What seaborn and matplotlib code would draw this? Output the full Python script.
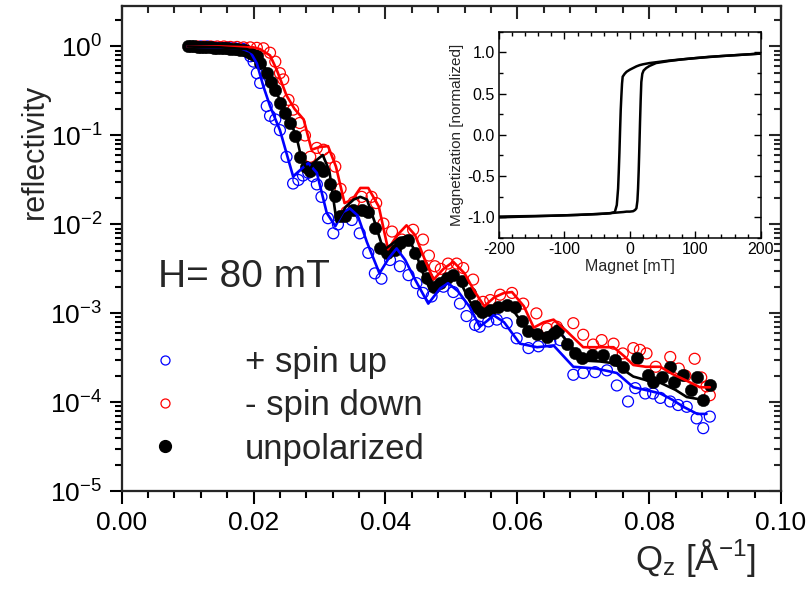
import numpy as np
import pandas as pd
import matplotlib
matplotlib.use("Agg")
import matplotlib.pyplot as plt
from matplotlib.ticker import MultipleLocator, LogLocator, NullFormatter, LogFormatterSciNotation
from matplotlib.lines import Line2D
import seaborn as sns

# ---------------- reflectivity data (Qz in 1/Angstrom, log10 of reflectivity) ----------------
q_unpol = [0.0100, 0.0105, 0.0110, 0.0115, 0.0120, 0.0125, 0.0130, 0.0135, 0.0140, 0.0145,
           0.0150, 0.0155, 0.0160, 0.0165, 0.0170, 0.0175, 0.0180, 0.0185, 0.0190, 0.0195,
           0.0200, 0.0205, 0.0210, 0.0220, 0.0227, 0.0233, 0.0240, 0.0248, 0.0255, 0.0263,
           0.0271, 0.0279, 0.0286, 0.0293, 0.0300, 0.0306, 0.0316, 0.0324, 0.0331, 0.0339,
           0.0351, 0.0364, 0.0374, 0.0384, 0.0392, 0.0402, 0.0414, 0.0422, 0.0435, 0.0445,
           0.0455, 0.0463, 0.0473, 0.0483, 0.0493, 0.0503, 0.0516, 0.0528, 0.0536, 0.0546,
           0.0559, 0.0571, 0.0584, 0.0597, 0.0607, 0.0617, 0.0630, 0.0645, 0.0655, 0.0662,
           0.0675, 0.0688, 0.0698, 0.0713, 0.0730, 0.0748, 0.0760, 0.0781, 0.0799, 0.0806,
           0.0819, 0.0832, 0.0837, 0.0852, 0.0864, 0.0872, 0.0882, 0.0892]
lg_unpol = [0.00, 0.00, 0.00, -0.005, -0.005, -0.01, -0.01, -0.01, -0.015, -0.015,
            -0.02, -0.02, -0.02, -0.025, -0.03, -0.03, -0.035, -0.04, -0.05, -0.07,
            -0.09, -0.11, -0.19, -0.30, -0.40, -0.49, -0.64, -0.75, -0.86, -1.01,
            -1.24, -1.36, -1.40, -1.35, -1.36, -1.40, -1.54, -1.68, -1.90, -1.91,
            -1.84, -1.84, -1.86, -2.04, -2.27, -2.32, -2.29, -2.21, -2.17, -2.32,
            -2.47, -2.60, -2.70, -2.66, -2.60, -2.57, -2.64, -2.77, -2.92, -2.98,
            -2.96, -2.93, -2.90, -2.93, -3.08, -3.20, -3.23, -3.26, -3.22, -3.19,
            -3.34, -3.45, -3.50, -3.47, -3.47, -3.52, -3.60, -3.50, -3.69, -3.77,
            -3.71, -3.60, -3.77, -3.69, -3.86, -3.71, -3.97, -3.81]

q_down = [0.0115, 0.0125, 0.0135, 0.0145, 0.0155, 0.0165, 0.0175, 0.0185, 0.0195, 0.0205,
          0.0215, 0.0225, 0.0233, 0.0240, 0.0245, 0.0253, 0.0260, 0.0270, 0.0278, 0.0286,
          0.0296, 0.0306, 0.0315, 0.0324, 0.0332, 0.0341, 0.0352, 0.0364, 0.0379, 0.0386,
          0.0397, 0.0410, 0.0425, 0.0442, 0.0457, 0.0466, 0.0475, 0.0484, 0.0495, 0.0508,
          0.0518, 0.0533, 0.0548, 0.0559, 0.0574, 0.0592, 0.0609, 0.0629, 0.0645, 0.0660,
          0.0685, 0.0700, 0.0715, 0.0728, 0.0746, 0.0760, 0.0776, 0.0786, 0.0796, 0.0810,
          0.0832, 0.0845, 0.0855, 0.0869, 0.0879, 0.0887, 0.0892]
lg_down = [0.00, 0.00, 0.00, 0.00, 0.00, -0.005, -0.005, -0.01, -0.01, -0.015,
           -0.02, -0.07, -0.17, -0.30, -0.37, -0.60, -0.71, -0.86, -1.00, -1.24,
           -1.14, -1.16, -1.25, -1.35, -1.60, -1.86, -1.75, -1.69, -1.69, -1.76,
           -1.99, -2.08, -2.17, -2.06, -2.17, -2.35, -2.47, -2.50, -2.44, -2.44,
           -2.49, -2.62, -2.87, -2.85, -2.79, -2.77, -2.89, -3.00, -3.17, -3.15,
           -3.11, -3.24, -3.35, -3.30, -3.34, -3.45, -3.39, -3.41, -3.45, -3.60,
           -3.49, -3.62, -3.70, -3.51, -3.72, -3.82, -3.92]

q_up = [0.0120, 0.0130, 0.0140, 0.0150, 0.0160, 0.0170, 0.0180, 0.0185, 0.0190, 0.0195,
        0.0200, 0.0205, 0.0210, 0.0220, 0.0225, 0.0233, 0.0240, 0.0250, 0.0260, 0.0268,
        0.0275, 0.0283, 0.0290, 0.0296, 0.0303, 0.0313, 0.0321, 0.0328, 0.0336, 0.0349,
        0.0361, 0.0374, 0.0384, 0.0394, 0.0407, 0.0422, 0.0435, 0.0447, 0.0457, 0.0470,
        0.0488, 0.0503, 0.0513, 0.0523, 0.0536, 0.0543, 0.0556, 0.0569, 0.0584, 0.0599,
        0.0617, 0.0632, 0.0650, 0.0665, 0.0685, 0.0700, 0.0718, 0.0736, 0.0751, 0.0768,
        0.0779, 0.0794, 0.0806, 0.0817, 0.0832, 0.0844, 0.0857, 0.0872, 0.0882, 0.0892]
lg_up = [0.00, 0.00, -0.005, -0.01, -0.01, -0.015, -0.02, -0.03, -0.06, -0.11,
         -0.17, -0.30, -0.41, -0.67, -0.78, -0.82, -0.94, -1.24, -1.54, -1.50,
         -1.45, -1.42, -1.46, -1.55, -1.69, -1.93, -2.10, -2.00, -1.91, -1.95,
         -2.10, -2.32, -2.55, -2.61, -2.40, -2.47, -2.57, -2.66, -2.77, -2.81,
         -2.70, -2.76, -2.89, -3.03, -3.13, -3.15, -3.09, -3.07, -3.11, -3.28,
         -3.39, -3.37, -3.32, -3.30, -3.69, -3.67, -3.66, -3.64, -3.81, -3.99,
         -3.84, -3.90, -3.90, -3.95, -3.99, -4.03, -4.05, -4.18, -4.29, -4.16]

# ---------------- model curves ----------------
q_fit_down = [0.0100, 0.0150, 0.0200, 0.0210, 0.0225, 0.0235, 0.0250, 0.0262, 0.0276, 0.0288,
              0.0300, 0.0313, 0.0325, 0.0338, 0.0350, 0.0362, 0.0374, 0.0390, 0.0404, 0.0418,
              0.0432, 0.0445, 0.0460, 0.0473, 0.0488, 0.0503, 0.0520, 0.0535, 0.0550, 0.0565,
              0.0580, 0.0592, 0.0610, 0.0625, 0.0640, 0.0655, 0.0675, 0.0700, 0.0725, 0.0746,
              0.0762, 0.0776, 0.0795, 0.0817, 0.0835, 0.0855, 0.0877, 0.0892]
lg_fit_down = [0.00, 0.00, -0.01, -0.03, -0.10, -0.26, -0.55, -0.70, -0.82, -1.16,
               -1.13, -1.12, -1.35, -1.76, -1.72, -1.59, -1.59, -1.80, -2.28, -2.12,
               -2.01, -2.12, -2.40, -2.62, -2.50, -2.42, -2.55, -2.75, -2.92, -2.82,
               -2.77, -2.76, -2.92, -3.16, -3.10, -3.07, -3.20, -3.38, -3.38, -3.38,
               -3.48, -3.58, -3.60, -3.60, -3.68, -3.75, -3.83, -3.83]

q_fit_unpol = [0.0100, 0.0150, 0.0190, 0.0205, 0.0215, 0.0230, 0.0250, 0.0265, 0.0273, 0.0283,
               0.0295, 0.0305, 0.0315, 0.0326, 0.0340, 0.0352, 0.0362, 0.0372, 0.0385, 0.0397,
               0.0410, 0.0422, 0.0433, 0.0445, 0.0457, 0.0468, 0.0483, 0.0498, 0.0512, 0.0525,
               0.0538, 0.0555, 0.0572, 0.0590, 0.0605, 0.0620, 0.0634, 0.0650, 0.0665, 0.0685,
               0.0700, 0.0725, 0.0746, 0.0762, 0.0776, 0.0800, 0.0817, 0.0840, 0.0857, 0.0880]
lg_fit_unpol = [0.00, -0.01, -0.03, -0.09, -0.20, -0.45, -0.75, -1.01, -1.27, -1.40,
                -1.28, -1.22, -1.40, -1.97, -1.80, -1.72, -1.69, -1.72, -2.00, -2.29,
                -2.22, -2.15, -2.14, -2.30, -2.55, -2.74, -2.62, -2.55, -2.62, -2.82,
                -3.00, -2.96, -2.92, -2.93, -3.08, -3.22, -3.27, -3.20, -3.22, -3.40,
                -3.53, -3.54, -3.56, -3.64, -3.71, -3.76, -3.78, -3.86, -3.94, -3.97]

q_fit_up = [0.0100, 0.0150, 0.0180, 0.0195, 0.0205, 0.0215, 0.0225, 0.0240, 0.0250, 0.0260,
            0.0272, 0.0283, 0.0296, 0.0311, 0.0324, 0.0336, 0.0346, 0.0358, 0.0372, 0.0391,
            0.0405, 0.0417, 0.0430, 0.0445, 0.0465, 0.0483, 0.0495, 0.0510, 0.0528, 0.0543,
            0.0555, 0.0564, 0.0580, 0.0604, 0.0630, 0.0655, 0.0670, 0.0685, 0.0720, 0.0751,
            0.0776, 0.0800, 0.0817, 0.0835, 0.0852, 0.0873, 0.0887]
lg_fit_up = [0.00, -0.01, -0.02, -0.06, -0.19, -0.45, -0.67, -0.94, -1.20, -1.46,
             -1.38, -1.31, -1.42, -1.87, -2.02, -1.86, -1.82, -1.90, -2.20, -2.55,
             -2.38, -2.27, -2.40, -2.62, -2.89, -2.72, -2.66, -2.75, -2.93, -3.15,
             -3.08, -3.02, -3.10, -3.34, -3.38, -3.36, -3.48, -3.60, -3.62, -3.67,
             -3.83, -3.87, -3.90, -3.97, -4.05, -4.13, -4.13]

# ---------------- hysteresis loop (field in mT, normalized magnetization) ----------------
h_desc = [200, 180, 160, 140, 120, 100, 80, 60, 40, 30, 20, 15, 10, 5, 0, -5, -8,
          -11, -12, -13, -14, -15, -16, -17, -18, -20, -23, -30, -50, -80, -120, -160, -200]
m_desc = [0.985, 0.975, 0.965, 0.955, 0.945, 0.93, 0.915, 0.90, 0.88, 0.87, 0.855, 0.845, 0.83,
          0.81, 0.79, 0.765, 0.74, 0.705, 0.62, 0.47, 0.30, 0.05, -0.22, -0.45, -0.65, -0.85,
          -0.935, -0.95, -0.96, -0.97, -0.98, -0.985, -0.99]
h_asc = [-200, -160, -120, -80, -40, -25, -10, -5, 0, 5, 8, 10, 11.5, 12.5, 13.5, 14.5,
         15.5, 16.5, 17.5, 19, 21, 25, 30, 40, 60, 80, 100, 140, 180, 200]
m_asc = [-1.0, -0.99, -0.98, -0.97, -0.955, -0.945, -0.935, -0.93, -0.93, -0.925, -0.91,
         -0.89, -0.80, -0.65, -0.43, -0.15, 0.15, 0.42, 0.64, 0.74, 0.78, 0.81, 0.835, 0.87,
         0.895, 0.915, 0.93, 0.955, 0.975, 0.985]

legend_labels = ["+ spin up", "- spin down", "unpolarized"]
field_label = "H= 80 mT"

# ---------------- style ----------------
sns.set_style("ticks")
plt.rcParams["font.family"] = ["Liberation Sans", "DejaVu Sans"]
plt.rcParams["mathtext.fontset"] = "custom"
plt.rcParams["mathtext.rm"] = "Liberation Sans"
plt.rcParams["mathtext.it"] = "Liberation Sans"
plt.rcParams["mathtext.bf"] = "Liberation Sans:bold"
plt.rcParams["axes.unicode_minus"] = False

fig = plt.figure(figsize=(8.08, 5.97), dpi=100)
ax = fig.add_axes([0.1506, 0.1770, 0.8160, 0.8129])
ax.set_yscale("log")
ax.set_xlim(0.0, 0.10)
ylim = (1e-5, 2.85)
ax.set_ylim(*ylim)

df_up = pd.DataFrame({"q": q_up, "r": 10.0 ** np.array(lg_up)})
df_down = pd.DataFrame({"q": q_down, "r": 10.0 ** np.array(lg_down)})
df_unpol = pd.DataFrame({"q": q_unpol, "r": 10.0 ** np.array(lg_unpol)})
fit_up = pd.DataFrame({"q": q_fit_up, "r": 10.0 ** np.array(lg_fit_up)})
fit_down = pd.DataFrame({"q": q_fit_down, "r": 10.0 ** np.array(lg_fit_down)})
fit_unpol = pd.DataFrame({"q": q_fit_unpol, "r": 10.0 ** np.array(lg_fit_unpol)})

sns.scatterplot(data=df_up, x="q", y="r", ax=ax, marker="o", s=62,
                facecolors="none", edgecolor="#0000ff", linewidth=0.9, zorder=3)
sns.scatterplot(data=df_down, x="q", y="r", ax=ax, marker="o", s=62,
                facecolors="none", edgecolor="#ff0000", linewidth=0.9, zorder=3)
sns.scatterplot(data=df_unpol, x="q", y="r", ax=ax, marker="o", s=80,
                color="black", edgecolor="black", linewidth=0.3, zorder=4)
for fit, col in [(fit_up, "#0000ff"), (fit_down, "#ff0000"), (fit_unpol, "black")]:
    sns.lineplot(data=fit, x="q", y="r", ax=ax, color=col, lw=1.9,
                 estimator=None, sort=False, zorder=5)

ax.set_xlim(0.0, 0.10)
ax.set_ylim(*ylim)

# axes frame and ticks
for sp in ax.spines.values():
    sp.set_visible(True)
    sp.set_linewidth(1.5)
    sp.set_color("black")
ax.xaxis.set_major_locator(MultipleLocator(0.02))
ax.xaxis.set_minor_locator(MultipleLocator(0.004))
ax.xaxis.set_major_formatter(matplotlib.ticker.FormatStrFormatter("%.2f"))
ax.yaxis.set_major_locator(LogLocator(base=10, numticks=10))
ax.yaxis.set_minor_locator(LogLocator(base=10, subs=np.arange(2, 10), numticks=20))
ax.yaxis.set_minor_formatter(NullFormatter())
ax.yaxis.set_major_formatter(LogFormatterSciNotation())
ax.tick_params(which="both", direction="out", width=1.5, labelsize=19, colors="black",
               top=False, right=False)
ax.tick_params(which="major", length=9, pad=5)
ax.tick_params(which="minor", length=5)

ax.set_xlabel("Q$_{\\mathrm{z}}$ [Å$^{\\mathrm{-1}}$]", fontsize=25, ha="right")
ax.xaxis.set_label_coords(0.962, -0.095)
ax.set_ylabel("reflectivity", fontsize=22, va="center")
ax.yaxis.set_label_coords(-0.132, 0.70)

# inward ticks on the top and right edges
axr = ax.twinx()
axr.set_yscale("log")
axr.set_ylim(*ylim)
axr.yaxis.set_major_locator(LogLocator(base=10, numticks=10))
axr.yaxis.set_minor_locator(LogLocator(base=10, subs=np.arange(2, 10), numticks=20))
axr.tick_params(axis="y", which="both", direction="in", width=1.5, labelright=False)
axr.tick_params(axis="y", which="major", length=9)
axr.tick_params(axis="y", which="minor", length=5)
axt = ax.twiny()
axt.set_xlim(0.0, 0.10)
axt.xaxis.set_major_locator(MultipleLocator(0.02))
axt.xaxis.set_minor_locator(MultipleLocator(0.004))
axt.tick_params(axis="x", which="both", direction="in", width=1.5, labeltop=False)
axt.tick_params(axis="x", which="major", length=9)
axt.tick_params(axis="x", which="minor", length=5)
for a in (axr, axt):
    for sp in a.spines.values():
        sp.set_linewidth(1.5)

ax.text(0.055, 0.421, field_label, transform=ax.transAxes, fontsize=28,
        ha="left", va="baseline")

handles = [
    Line2D([], [], marker="o", ls="none", mfc="none", mec="#0000ff", ms=6.5, mew=0.9),
    Line2D([], [], marker="o", ls="none", mfc="none", mec="#ff0000", ms=6.5, mew=0.9),
    Line2D([], [], marker="o", ls="none", mfc="black", mec="black", ms=8.5),
]
ax.legend(handles, legend_labels, loc="upper left", bbox_to_anchor=(0.040, 0.300),
          frameon=False, borderpad=0, borderaxespad=0, handlelength=1.0,
          handletextpad=1.78, labelspacing=0.30, fontsize=25)

# ---------------- inset: hysteresis loop ----------------
ins = fig.add_axes([0.6176, 0.6013, 0.3239, 0.3456])
ins.set_facecolor("white")
sns.lineplot(x=h_desc, y=m_desc, ax=ins, color="black", lw=1.8, estimator=None, sort=False)
sns.lineplot(x=h_asc, y=m_asc, ax=ins, color="black", lw=1.8, estimator=None, sort=False)
ins.set_xlim(-200, 200)
ins.set_ylim(-1.25, 1.25)
ins.xaxis.set_major_locator(MultipleLocator(100))
ins.xaxis.set_minor_locator(MultipleLocator(20))
ins.yaxis.set_major_locator(MultipleLocator(0.5))
ins.yaxis.set_minor_locator(MultipleLocator(0.25))
ins.yaxis.set_major_formatter(matplotlib.ticker.FormatStrFormatter("%.1f"))
ins.tick_params(which="both", direction="in", width=1.0, labelsize=11.5,
                top=True, right=True, colors="black")
ins.tick_params(which="major", length=5, pad=3)
ins.tick_params(which="minor", length=3)
for sp in ins.spines.values():
    sp.set_linewidth(1.1)
    sp.set_color("black")
ins.set_xlabel("Magnet [mT]", fontsize=11.5, labelpad=1)
ins.set_ylabel("Magnetization [normalized]", fontsize=11, labelpad=2)

fig.savefig("out.png", dpi=100)
